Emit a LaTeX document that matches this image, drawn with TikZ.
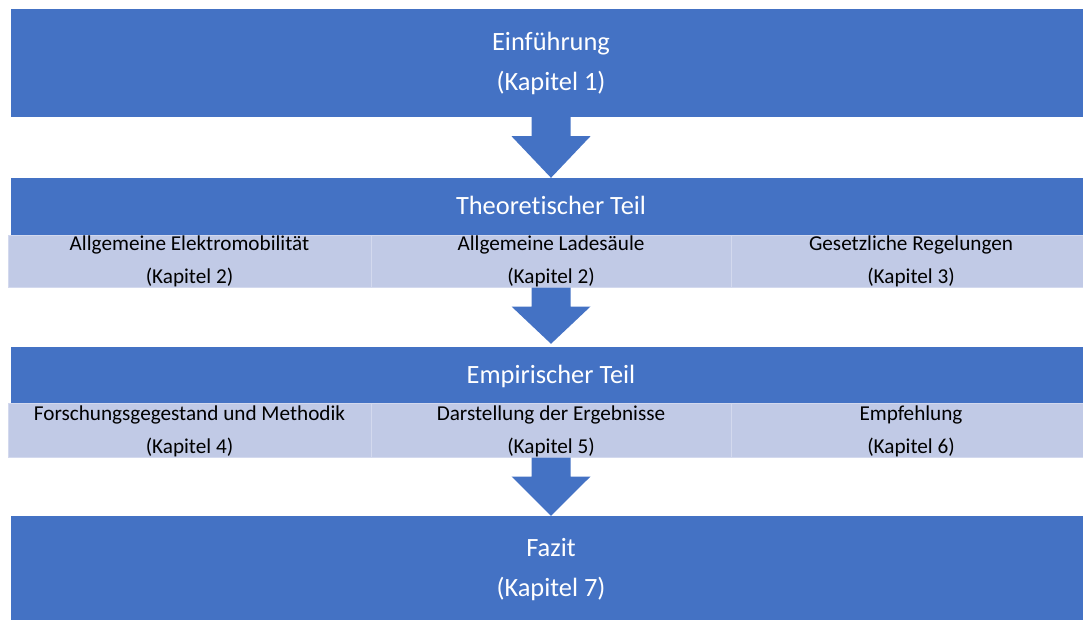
\documentclass[tikz,border=0pt]{standalone}
\usepackage{fontspec}
\setmainfont{Carlito}[Ligatures=NoCommon]
\usetikzlibrary{calc}
\definecolor{mainblue}{HTML}{4472C4}
\definecolor{lightblue}{HTML}{C1CAE6}
\definecolor{cellline}{HTML}{D3D9EE}
\newcommand\blockarr[2]{%
  \fill[blockarrow] ($(#1)+(-19.5,0)$) -- ($(#1)+(19.5,0)$) -- ($(#1)+(19.5,19)$)
    -- ($(#1)+(39.5,19)$) -- (#2) -- ($(#1)+(-39.5,19)$) -- ($(#1)+(-19.5,19)$) -- cycle;}
\begin{document}
\begin{tikzpicture}[x=1pt,y=-1pt,
  bluebox/.style={fill=mainblue, draw=none, inner sep=0pt, minimum width=1080pt},
  cell/.style={fill=lightblue, draw=cellline, line width=1pt, inner sep=0pt},
  bigtext/.style={text=white, font=\fontsize{26.4}{30}\selectfont, anchor=base, inner sep=0pt},
  smalltext/.style={text=black, font=\fontsize{21.2}{25}\selectfont, anchor=base, inner sep=0pt},
  blockarrow/.style={fill=mainblue, draw=none}]
\useasboundingbox (0,0) rectangle (1083,619);
\clip (0,0) rectangle (1083,619);
% boxes
\node[bluebox, minimum height=108pt] (b1) at (551,63) {};
\node[bluebox, minimum height=57pt] (b2) at (551,206.5) {};
\node[cell, minimum width=363pt, minimum height=52pt] (c21) at (189.5,261) {};
\node[cell, minimum width=360pt, minimum height=52pt] (c22) at (551,261) {};
\node[cell, minimum width=360pt, minimum height=52pt] (c23) at (911,261) {};
\node[bluebox, minimum height=56pt] (b3) at (551,375) {};
\node[cell, minimum width=363pt, minimum height=54pt] (c31) at (189.5,430) {};
\node[cell, minimum width=360pt, minimum height=54pt] (c32) at (551,430) {};
\node[cell, minimum width=360pt, minimum height=54pt] (c33) at (911,430) {};
\node[bluebox, minimum height=108pt] (b4) at (551,570) {};
% arrows
\coordinate (a2tip) at ($(b3.north)+(0,-3)$);
\blockarr{b1.south}{b2.north}
\blockarr{c22.south}{a2tip}
\blockarr{c32.south}{b4.north}
% texts
\node[bigtext] (t1a) at (551,50) {Einführung};
\node[bigtext] (t1b) at (551,90) {(Kapitel 1)};
\node[bigtext] (t2) at (551,214) {Theoretischer Teil};
\node[smalltext] (t21a) at (189.5,250.5) {Allgemeine Elektromobilität};
\node[smalltext] (t21b) at (189.5,283.5) {(Kapitel 2)};
\node[smalltext] (t22a) at (551,250.5) {Allgemeine Ladesäule};
\node[smalltext] (t22b) at (551,283.5) {(Kapitel 2)};
\node[smalltext] (t23a) at (911,250.5) {Gesetzliche Regelungen};
\node[smalltext] (t23b) at (911,283.5) {(Kapitel 3)};
\node[bigtext] (t3) at (551,383) {Empirischer Teil};
\node[smalltext] (t31a) at (189.5,420.5) {Forschungsgegestand und Methodik};
\node[smalltext] (t31b) at (189.5,453.5) {(Kapitel 4)};
\node[smalltext] (t32a) at (551,420.5) {Darstellung der Ergebnisse};
\node[smalltext] (t32b) at (551,453.5) {(Kapitel 5)};
\node[smalltext] (t33a) at (911,420.5) {Empfehlung};
\node[smalltext] (t33b) at (911,453.5) {(Kapitel 6)};
\node[bigtext] (t4a) at (551,556) {Fazit};
\node[bigtext] (t4b) at (551,596) {(Kapitel 7)};
\end{tikzpicture}
\end{document}
